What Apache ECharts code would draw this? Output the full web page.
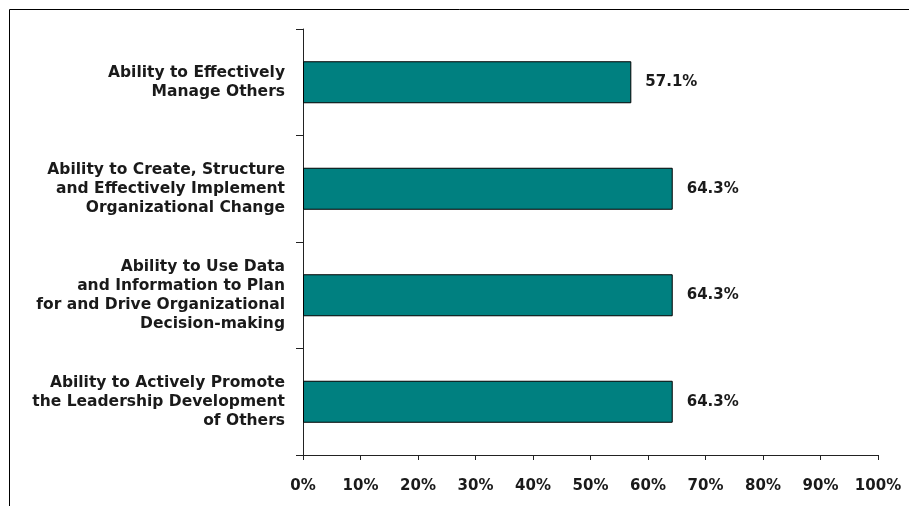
<!DOCTYPE html>
<html>
<head>
<meta charset="utf-8">
<script src="https://cdn.jsdelivr.net/npm/echarts@6/dist/echarts.min.js"></script>
<style>
html,body{margin:0;padding:0;background:#fff;}
#chart{width:909px;height:506px;}
</style>
</head>
<body>
<div id="chart"></div>
<script>
const categories = [
  "Ability to Effectively\nManage Others",
  "Ability to Create, Structure\nand Effectively Implement\nOrganizational Change",
  "Ability to Use Data\nand Information to Plan\nfor and Drive Organizational\nDecision-making",
  "Ability to Actively Promote\nthe Leadership Development\nof Others"
];
const values = [57.1, 64.3, 64.3, 64.3];
const xTicks = [0, 10, 20, 30, 40, 50, 60, 70, 80, 90, 100];

const FONT = "'DejaVu Sans', Verdana, sans-serif";
const chart = echarts.init(document.getElementById('chart'), null, {renderer: 'canvas'});
chart.setOption({
  animation: false,
  backgroundColor: '#ffffff',
  graphic: [{
    type: 'rect',
    shape: {x: 9.5, y: 9.5, width: 1000, height: 1000},
    style: {fill: 'none', stroke: '#000', lineWidth: 1},
    silent: true
  }],
  grid: {left: 303, right: 31, top: 29, bottom: 51, containLabel: false},
  xAxis: {
    type: 'value',
    min: xTicks[0],
    max: xTicks[xTicks.length - 1],
    interval: xTicks[1] - xTicks[0],
    axisLine: {show: true, lineStyle: {color: '#222', width: 1}},
    axisTick: {show: true, length: 5, lineStyle: {color: '#222'}},
    splitLine: {show: false},
    axisLabel: {
      formatter: v => v + '%',
      fontFamily: FONT, fontWeight: 'bold', fontSize: 15, color: '#1a1a1a', margin: 24
    }
  },
  yAxis: {
    type: 'category',
    data: categories,
    inverse: true,
    axisLine: {show: true, lineStyle: {color: '#222', width: 1}},
    axisTick: {show: true, length: 7, lineStyle: {color: '#222'}},
    axisLabel: {
      fontFamily: FONT, fontWeight: 'bold', fontSize: 15.5, lineHeight: 19,
      color: '#1a1a1a', margin: 18, align: 'right', padding: [0, 0, 9, 0]
    }
  },
  series: [{
    type: 'bar',
    data: values,
    barWidth: 42,
    itemStyle: {color: '#008080', borderColor: '#000', borderWidth: 1},
    label: {
      show: true, position: 'right', distance: 14,
      formatter: p => p.value.toFixed(1) + '%',
      fontFamily: FONT, fontWeight: 'bold', fontSize: 15, color: '#1a1a1a'
    }
  }]
});
</script>
</body>
</html>
